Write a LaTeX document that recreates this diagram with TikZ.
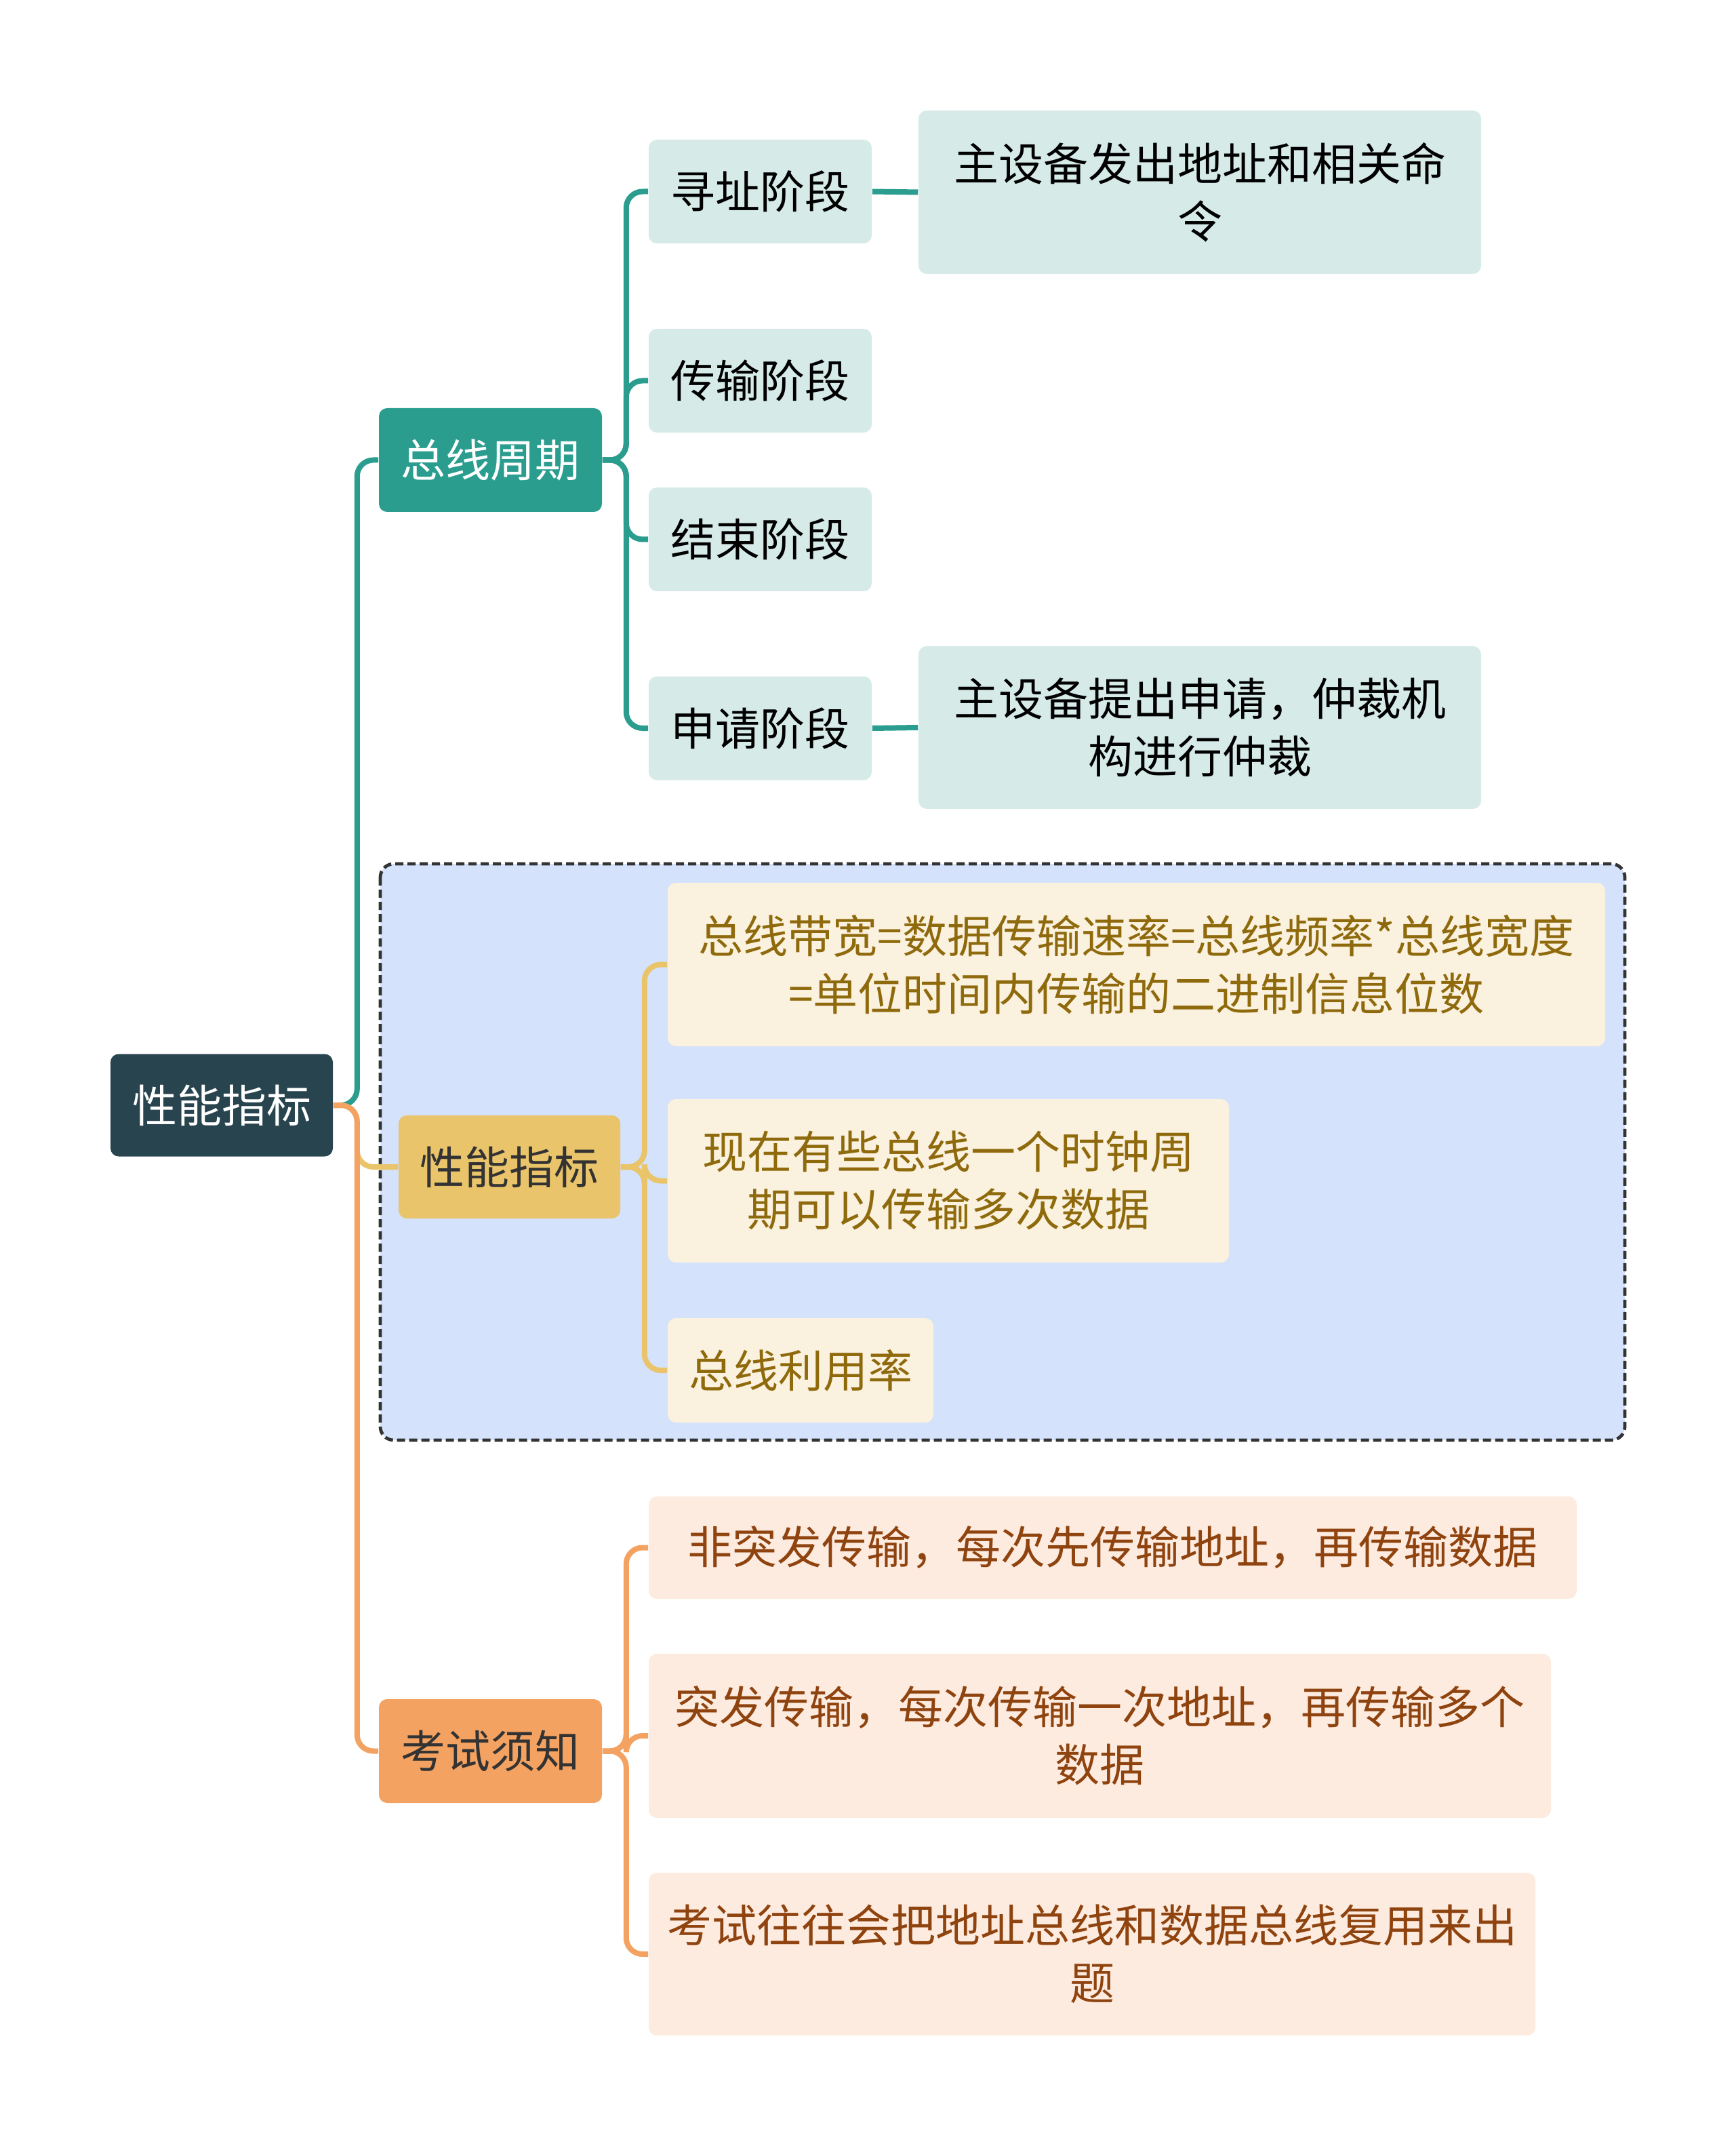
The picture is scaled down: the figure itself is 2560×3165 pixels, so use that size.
\documentclass[tikz,border=0pt]{standalone}
\usepackage{fontspec}
\setmainfont{Noto Sans CJK SC}
\definecolor{rootc}{HTML}{28444F}
\definecolor{tealc}{HTML}{2A9D8F}
\definecolor{tealbg}{HTML}{D6EBE8}
\definecolor{yelc}{HTML}{E9C46A}
\definecolor{yelbg}{HTML}{FAF1DF}
\definecolor{yeltx}{HTML}{8F6A0C}
\definecolor{orac}{HTML}{F4A261}
\definecolor{orabg}{HTML}{FDEBDF}
\definecolor{oratx}{HTML}{8F430F}
\definecolor{boxbg}{HTML}{D4E3FB}
\definecolor{darktx}{HTML}{333333}
\tikzset{
  base/.style={rounded corners=3pt, inner sep=0pt, align=center, font=\fontsize{16.5pt}{21.25pt}\selectfont},
  rootbox/.style={base, fill=rootc, text=white, minimum width=328*0.25pt, minimum height=151*0.25pt},
  tealbox/.style={base, fill=tealc, text=white, minimum width=329*0.25pt, minimum height=153*0.25pt},
  tealleaf/.style={base, fill=tealbg, text=black},
  yelbox/.style={base, fill=yelc, text=darktx, minimum width=327*0.25pt, minimum height=152*0.25pt},
  yelleaf/.style={base, fill=yelbg, text=yeltx},
  orabox/.style={base, fill=orac, text=darktx, minimum width=329*0.25pt, minimum height=153*0.25pt},
  oraleaf/.style={base, fill=orabg, text=oratx},
  conn/.style={line width=2pt, rounded corners=6pt},
}
\begin{document}
\begin{tikzpicture}[x=0.25pt,y=-0.25pt]
\useasboundingbox (0,0) rectangle (2560,3165);
% dashed summary box
\draw[fill=boxbg, draw=darktx, line width=1.2pt, dash pattern=on 3pt off 1.5pt, rounded corners=5pt] (561,1274) rectangle (2397,2124);

% nodes
\node[rootbox] (root) at (327,1630) {性能指标};
\node[tealbox] (c1) at (723.5,678.5) {总线周期};
\node[tealleaf, minimum width=329*0.25pt, minimum height=153*0.25pt] (a1) at (1121.5,282.5) {寻址阶段};
\node[tealleaf, minimum width=830*0.25pt, minimum height=241*0.25pt] (a1d) at (1770,283.5) {主设备发出地址和相关命\\令};
\node[tealleaf, minimum width=329*0.25pt, minimum height=153*0.25pt] (a2) at (1121.5,561.5) {传输阶段};
\node[tealleaf, minimum width=329*0.25pt, minimum height=153*0.25pt] (a3) at (1121.5,795.5) {结束阶段};
\node[tealleaf, minimum width=329*0.25pt, minimum height=153*0.25pt] (a4) at (1121.5,1074) {申请阶段};
\node[tealleaf, minimum width=830*0.25pt, minimum height=240*0.25pt] (a4d) at (1770,1073) {主设备提出申请，仲裁机\\构进行仲裁};

\node[yelbox] (c2) at (751.5,1721) {性能指标};
\node[yelleaf, minimum width=1383*0.25pt, minimum height=241*0.25pt] (y1) at (1676.5,1422.5) {总线带宽=数据传输速率=总线频率*总线宽度\\=单位时间内传输的二进制信息位数};
\node[yelleaf, minimum width=828*0.25pt, minimum height=241*0.25pt] (y2) at (1399,1741.5) {现在有些总线一个时钟周\\期可以传输多次数据};
\node[yelleaf, minimum width=392*0.25pt, minimum height=154*0.25pt] (y3) at (1181,2021) {总线利用率};

\node[orabox] (c3) at (723.5,2582.5) {考试须知};
\node[oraleaf, minimum width=1369*0.25pt, minimum height=151*0.25pt] (o1) at (1641.5,2282.5) {非突发传输，每次先传输地址，再传输数据};
\node[oraleaf, minimum width=1331*0.25pt, minimum height=242*0.25pt] (o2) at (1622.5,2560) {突发传输，每次传输一次地址，再传输多个\\数据};
\node[oraleaf, minimum width=1308*0.25pt, minimum height=240*0.25pt] (o3) at (1611,2882) {考试往往会把地址总线和数据总线复用来出\\题};

% connectors level 1
\draw[conn, draw=yelc] (root.east) -- ++(35,0) |- (c2.west);
\draw[conn, draw=tealc] (root.east) -- ++(35,0) |- (c1.west);
\draw[conn, draw=orac] (root.east) -- ++(35,0) |- (c3.west);

% level 2 teal
\foreach \t in {a1,a2,a3,a4}
  \draw[conn, draw=tealc] (c1.east) -- ++(35,0) |- (\t.west);
\draw[conn, draw=tealc] (a1.east) -- (a1d.west);
\draw[conn, draw=tealc] (a4.east) -- (a4d.west);

% level 2 yellow
\foreach \t in {y1,y2,y3}
  \draw[conn, draw=yelc] (c2.east) -- ++(35,0) |- (\t.west);

% level 2 orange
\foreach \t in {o1,o2,o3}
  \draw[conn, draw=orac] (c3.east) -- ++(35,0) |- (\t.west);
\end{tikzpicture}
\end{document}
